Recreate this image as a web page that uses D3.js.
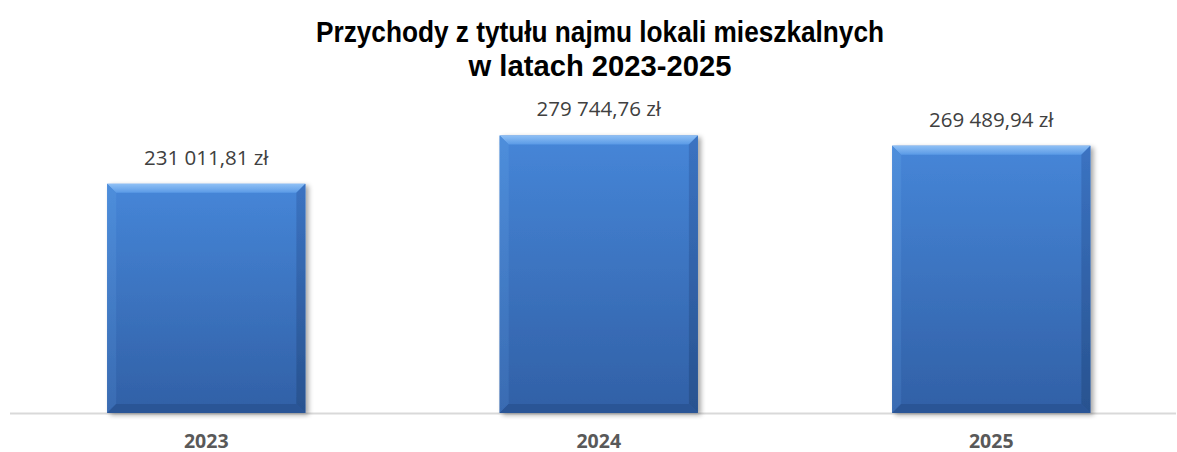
<!DOCTYPE html>
<html><head><meta charset="utf-8">
<script src="https://cdn.jsdelivr.net/npm/d3@7"></script>
<style>
body{margin:0;background:#fff;}
svg{display:block;}
</style></head>
<body>
<svg id="chart" width="1177" height="452"></svg>
<script>
const categories = ["2023", "2024", "2025"];
const values = [231011.81, 279744.76, 269489.94];
const valueLabels = ["231 011,81 zł", "279 744,76 zł", "269 489,94 zł"];
const titleLines = ["Przychody z tytułu najmu lokali mieszkalnych", "w latach 2023-2025"];

const svg = d3.select("#chart");
const W = 1177, H = 452;
const baseY = 413;

const x = d3.scaleBand().domain(categories).range([10, 1187.5]).paddingInner(0.495).paddingOuter(0.2475);
const y = d3.scaleLinear().domain([0, 300000]).range([baseY, baseY - 300000/1008]);

const defs = svg.append("defs");
const g = defs.append("linearGradient").attr("id","body").attr("x1",0).attr("y1",0).attr("x2",0).attr("y2",1);
g.append("stop").attr("offset","0%").attr("stop-color","#4686d8");
g.append("stop").attr("offset","100%").attr("stop-color","#3160a6");
const gt = defs.append("linearGradient").attr("id","topb").attr("x1",0).attr("y1",0).attr("x2",0).attr("y2",1);
gt.append("stop").attr("offset","0%").attr("stop-color","#8fc0f5");
gt.append("stop").attr("offset","100%").attr("stop-color","#5a9ae6");
const gl = defs.append("linearGradient").attr("id","leftb").attr("x1",0).attr("y1",0).attr("x2",0).attr("y2",1);
gl.append("stop").attr("offset","0%").attr("stop-color","#4f8fdc");
gl.append("stop").attr("offset","100%").attr("stop-color","#3a6cb3");
const gr = defs.append("linearGradient").attr("id","rightb").attr("x1",0).attr("y1",0).attr("x2",0).attr("y2",1);
gr.append("stop").attr("offset","0%").attr("stop-color","#3b73c2");
gr.append("stop").attr("offset","100%").attr("stop-color","#28528f");
const f = defs.append("filter").attr("id","shadow").attr("x","-10%").attr("y","-10%").attr("width","130%").attr("height","130%");
f.append("feGaussianBlur").attr("in","SourceAlpha").attr("stdDeviation",2.5);
f.append("feOffset").attr("dx",3).attr("dy",2).attr("result","ob");
f.append("feComponentTransfer").append("feFuncA").attr("type","linear").attr("slope",0.35);
const m = f.append("feMerge"); m.append("feMergeNode"); m.append("feMergeNode").attr("in","SourceGraphic");

// baseline
svg.append("line").attr("x1",10).attr("x2",1176).attr("y1",baseY+0.5).attr("y2",baseY+0.5)
  .attr("stroke","#d9d9d9").attr("stroke-width",2);

const data = categories.map((c,i)=>({c, v: values[i], label: valueLabels[i]}));
const bev = 9;
const bars = svg.append("g").selectAll("g").data(data).join("g").attr("filter","url(#shadow)");
bars.each(function(d){
  const gg = d3.select(this);
  const x0 = x(d.c), x1 = x0 + x.bandwidth(), y0 = y(d.v), y1 = y(0);
  gg.append("rect").attr("x",x0).attr("y",y0).attr("width",x1-x0).attr("height",y1-y0).attr("fill","url(#body)");
  gg.append("path").attr("d",`M${x0},${y0}L${x1},${y0}L${x1-bev},${y0+bev}L${x0+bev},${y0+bev}Z`).attr("fill","url(#topb)");
  gg.append("path").attr("d",`M${x0},${y0}L${x0+bev},${y0+bev}L${x0+bev},${y1-bev}L${x0},${y1}Z`).attr("fill","url(#leftb)").attr("opacity",0.9);
  gg.append("path").attr("d",`M${x1},${y0}L${x1},${y1}L${x1-bev},${y1-bev}L${x1-bev},${y0+bev}Z`).attr("fill","url(#rightb)");
  gg.append("path").attr("d",`M${x0},${y1}L${x0+bev},${y1-bev}L${x1-bev},${y1-bev}L${x1},${y1}Z`).attr("fill","#2b5596");
});

// value labels
svg.append("g").selectAll("text").data(data).join("text")
  .attr("x", d => x(d.c) + x.bandwidth()/2)
  .attr("y", d => y(d.v) - 19)
  .attr("text-anchor","middle")
  .attr("font-family","'Open Sans', sans-serif")
  .attr("font-size",20.5)
  .attr("fill","#404040")
  .text(d => d.label);

// x axis labels
const xAxis = d3.axisBottom(x).tickSize(0).tickPadding(0);
const ax = svg.append("g").attr("transform",`translate(0,${baseY})`).call(xAxis);
ax.select(".domain").remove();
ax.selectAll("text").attr("y",35).attr("dy",0)
  .attr("font-family","'Open Sans', sans-serif").attr("font-size",19.5).attr("font-weight","bold").attr("fill","#595959");

// title
const t = svg.append("text").attr("text-anchor","middle")
  .attr("font-family","'Liberation Sans','Arial',sans-serif")
  .attr("font-weight","bold").attr("font-size",30).attr("fill","#000");
const titleWidths = [568, 263];
titleLines.forEach((l,i)=>t.append("tspan").attr("x",600).attr("y",42 + i*34)
  .attr("textLength",titleWidths[i]).attr("lengthAdjust","spacingAndGlyphs").text(l));
</script>
</body></html>
